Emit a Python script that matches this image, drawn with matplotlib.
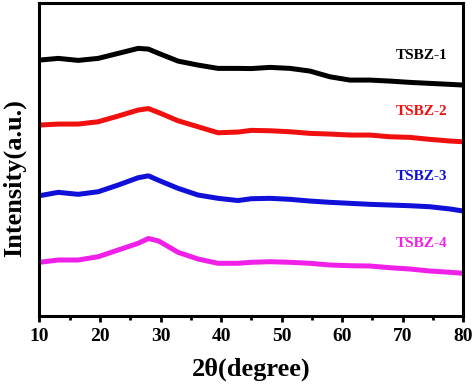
import numpy as np
import matplotlib
matplotlib.use("Agg")
import matplotlib.pyplot as plt
from matplotlib.ticker import MultipleLocator

########## DATA ##########

two_theta = [10, 13.1, 16.4, 19.7, 23, 26.3, 28, 29.7, 32.9, 36.2, 39.5, 42.8,
             45, 48.1, 51.4, 54.7, 58, 61.3, 64.6, 67.9, 71.2, 74.5, 77.9, 80]

# stacked patterns, offsets already included, arbitrary units
tsbz1 = [256, 257.7, 255.7, 257.7, 262.7, 267.7, 267, 262.7, 255, 251, 247.7,
         247.7, 247.5, 248.7, 247.7, 245, 239.3, 236, 236, 235, 233.7, 232.7,
         231.7, 231]
tsbz2 = [191, 192, 192, 194.3, 200, 206, 207.5, 203.5, 195.3, 189.3, 183.3,
         184, 185.7, 185.3, 184.3, 182.7, 182, 181, 181, 179.3, 178.7, 176.7,
         175, 174.3]
tsbz3 = [120.3, 123.7, 121.7, 124.3, 131, 138.3, 140.2, 135.7, 127.7, 121,
         117.7, 115.5, 117.3, 117.7, 116.7, 115, 113.7, 112.7, 111.7, 111,
         110.3, 109.3, 107, 105]
tsbz4 = [53.7, 56, 56, 59.3, 66, 72.7, 77.5, 75, 63.7, 57, 52.7, 52.7, 53.7,
         54.3, 53.7, 52.7, 51, 50.3, 50, 48.3, 47, 45, 43.7, 42.7]

names = ["TSBZ-1", "TSBZ-2", "TSBZ-3", "TSBZ-4"]
colors = ["#000000", "#f01010", "#1010d8", "#f020e8"]
label_y = [260.3, 205, 140, 72.7]

########## PLOTTING ##########

plt.rcParams['font.family'] = ['Liberation Serif', 'DejaVu Serif']
plt.rcParams['font.weight'] = 'bold'

fig = plt.figure(figsize=(4.74, 3.89), dpi=100)
ax = fig.add_axes([0.0833, 0.1877, 0.8937, 0.8043])

for ys, c in zip([tsbz1, tsbz2, tsbz3, tsbz4], colors):
    ax.plot(two_theta, ys, color=c, linewidth=3.6, solid_joinstyle='round',
            solid_capstyle='butt')

for name, c, yl in zip(names, colors, label_y):
    ax.text(77.4, yl, name, color=c, fontsize=11, fontweight='bold',
            ha='right', va='center')

ax.set_xlim(10, 80)
ax.set_ylim(0, 313)
ax.xaxis.set_major_locator(MultipleLocator(10))
ax.xaxis.set_minor_locator(MultipleLocator(5))
ax.set_yticks([])
ax.tick_params(axis='x', which='major', direction='out', length=4.5, width=2,
               labelsize=14, pad=4)
ax.tick_params(axis='x', which='minor', direction='out', length=3, width=2)
for lab in ax.get_xticklabels():
    lab.set_fontweight('bold')
for s in ax.spines.values():
    s.set_linewidth(2.2)

ax.set_xlabel("2θ(degree)", fontsize=19, fontweight='bold', labelpad=9)
ax.set_ylabel("Intensity(a.u.)", fontsize=19, fontweight='bold')
ax.yaxis.set_label_coords(-0.032, 0.44)

fig.savefig("out.png", dpi=100)
